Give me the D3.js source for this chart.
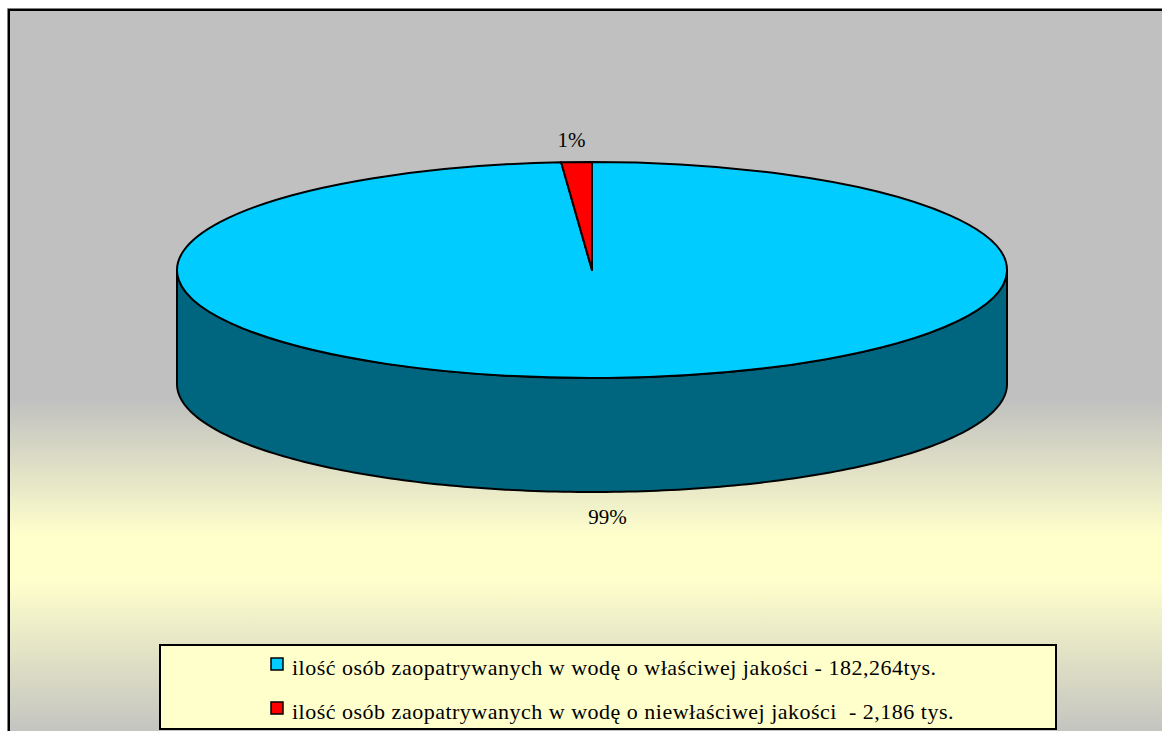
<!DOCTYPE html>
<html>
<head>
<meta charset="utf-8">
<script src="https://cdn.jsdelivr.net/npm/d3@7"></script>
<style>
  body { margin: 0; background: #fff; }
  svg { display: block; }
  text { font-family: "Liberation Serif", Tinos, "Times New Roman", "DejaVu Serif", serif; }
</style>
</head>
<body>
<div id="chart"></div>
<script>
var width = 1162, height = 731;

// data
var labels = ["ilość osób zaopatrywanych w wodę o właściwej jakości - 182,264tys.",
              "ilość osób zaopatrywanych w wodę o niewłaściwej jakości  - 2,186 tys."];
var values = [182264, 2186];
var topColors = ["#00CCFF", "#FF0000"];
var sideColor = "#006680";

var total = d3.sum(values);

var svg = d3.select("#chart").append("svg")
  .attr("width", width)
  .attr("height", height);

// background gradient (gray -> pale yellow -> gray)
var defs = svg.append("defs");
var grad = defs.append("linearGradient")
  .attr("id", "bg")
  .attr("gradientUnits", "userSpaceOnUse")
  .attr("x1", 0).attr("y1", 10)
  .attr("x2", 0).attr("y2", 731);
[[0, "#C0C0C0"], [0.54, "#C0C0C0"], [0.73, "#FFFFCC"], [0.79, "#FFFFCC"], [1, "#C4C4C0"]]
  .forEach(function(s) {
    grad.append("stop").attr("offset", s[0]).attr("stop-color", s[1]);
  });

svg.append("rect")
  .attr("x", 9).attr("y", 10)
  .attr("width", 1200).attr("height", 800)
  .attr("fill", "url(#bg)")
  .attr("stroke", "#000")
  .attr("stroke-width", 2);
svg.append("path")
  .attr("d", "M7.5,800V8.5H1162")
  .attr("fill", "none")
  .attr("stroke", "#808080")
  .attr("stroke-width", 1);

// 3d pie geometry
var cx = 592, cy = 270, rx = 415, ry = 108, depth = 114;

// blue runs clockwise from 12 o'clock, red fills the rest up to 12
var pie = d3.pie().sort(null).value(function(d) { return d; });
var arcs = pie(values);

function ex(a) { return cx + rx * Math.sin(a); }
function ey(a) { return cy - ry * Math.cos(a); }

var line = d3.line();

// front side of the cylinder (visible from 90deg to 270deg)
var sideAngles = d3.range(Math.PI / 2, 3 * Math.PI / 2 + 0.0001, Math.PI / 180);
var sidePts = sideAngles.map(function(a) { return [ex(a), ey(a)]; })
  .concat(sideAngles.slice().reverse().map(function(a) { return [ex(a), ey(a) + depth]; }));

svg.append("path")
  .attr("d", line(sidePts) + "Z")
  .attr("fill", sideColor)
  .attr("stroke", "#000")
  .attr("stroke-width", 2)
  .attr("stroke-linejoin", "round");

// top faces
var arc = d3.arc().innerRadius(0).outerRadius(rx);
svg.append("g")
  .attr("transform", "translate(" + cx + "," + cy + ") scale(1," + (ry / rx) + ")")
  .selectAll("path")
  .data(arcs)
  .join("path")
  .attr("d", arc)
  .attr("fill", function(d, i) { return topColors[i]; })
  .attr("stroke", "#000")
  .attr("stroke-width", 2)
  .attr("vector-effect", "non-scaling-stroke")
  .attr("stroke-linejoin", "round");

// percent labels
var labelOffsets = [[0, depth + 32], [-5, -15]];
arcs.forEach(function(d, i) {
  var mid = (d.startAngle + d.endAngle) / 2;
  svg.append("text")
    .attr("x", ex(mid) + labelOffsets[i][0])
    .attr("y", ey(mid) + labelOffsets[i][1])
    .attr("text-anchor", "middle")
    .style("font-size", "21px")
    .text(Math.round(d.value / total * 100) + "%");
});

// legend
var legend = svg.append("g");
legend.append("rect")
  .attr("x", 160).attr("y", 645)
  .attr("width", 896).attr("height", 84)
  .attr("fill", "#FFFFCC")
  .attr("stroke", "#000")
  .attr("stroke-width", 2);

labels.forEach(function(l, i) {
  var y = 658 + i * 44;
  legend.append("rect")
    .attr("x", 271).attr("y", y)
    .attr("width", 12).attr("height", 12)
    .attr("fill", topColors[i])
    .attr("stroke", "#000")
    .attr("stroke-width", 1.5);
  legend.append("text")
    .attr("x", 292).attr("y", y + 17)
    .style("font-size", "22px")
    .style("letter-spacing", "0.5px")
    .style("white-space", "pre")
    .text(l);
});
</script>
</body>
</html>
